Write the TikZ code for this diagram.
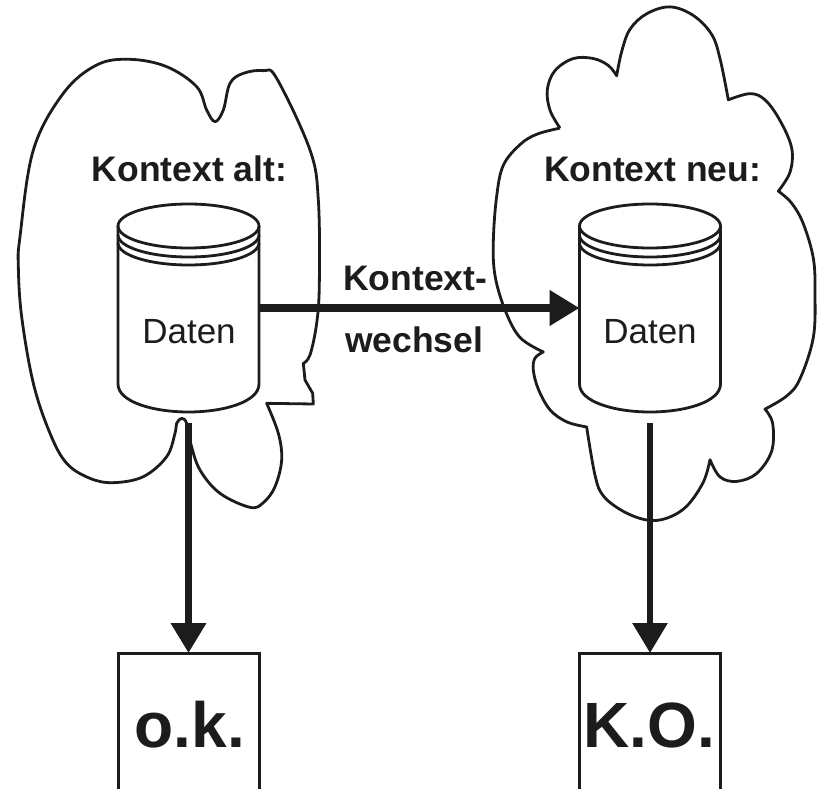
\documentclass[tikz,border=0pt]{standalone}
\usepackage{fontspec}
\setmainfont{Liberation Sans}
\usetikzlibrary{arrows.meta}
\definecolor{ink}{HTML}{1C1C1C}
\tikzset{
  cloudline/.style={draw=ink,line width=2.8pt,line join=round},
  drumline/.style={draw=ink,line width=2.8pt},
  drum/.style={minimum width=141pt,minimum height=208pt,inner sep=0pt,outer sep=0pt},
  resultbox/.style={draw=ink,line width=3pt,minimum width=141pt,minimum height=260pt,inner sep=0pt,outer sep=0pt},
  flow/.style={draw=ink,-{Triangle[length=30pt,width=34pt]}},
  heading/.style={font=\fontsize{35.5}{37}\selectfont\bfseries,text=ink,inner sep=0pt,anchor=base},
  switchlabel/.style={font=\fontsize{35.5}{37}\selectfont\bfseries,text=ink,inner sep=0pt,anchor=base west},
  datalabel/.style={font=\fontsize{35}{37}\selectfont,text=ink,inner sep=0pt,anchor=base},
  resultlabel/.style={font=\fontsize{64}{66}\selectfont\bfseries,text=ink,inner sep=0pt,anchor=base}
}
\newcommand{\drumbody}{%
  \draw[drumline] (-70.5,-82) arc[start angle=180,end angle=-180,x radius=70.5,y radius=22];
  \draw[drumline] (-70.5,-73) arc[start angle=180,end angle=0,x radius=70.5,y radius=22];
  \draw[drumline] (-70.5,-65) arc[start angle=180,end angle=0,x radius=70.5,y radius=22];
  \draw[drumline] (-70.5,-82) -- (-70.5,76) .. controls (-70.5,94) and (-35,104) .. (0,104)
     .. controls (35,104) and (70.5,94) .. (70.5,76) -- (70.5,-82);
}
\begin{document}
\begin{tikzpicture}[x=1pt,y=-1pt]
\path[use as bounding box,clip] (0,0) rectangle (817,789);

% left cloud
\begin{scope}[x=.33333pt,y=-.33333pt,yshift=-50pt]
\draw[cloudline] plot[smooth,tension=.6] coordinates {(800,1060)(835,1150)(845,1230)(825,1310)(790,1358)(750,1372)(660,1330)(600,1260)(572,1180)(560,1120)(545,1105)(530,1120)(525,1150)(500,1220)(430,1280)(340,1298)(270,1285)(200,1240)(150,1150)(100,1000)(65,800)(55,650)(60,560)(100,300)(190,130)(290,45)(390,28)(500,50)(590,110)(620,180)(645,215)(670,180)(690,100)(730,70)(790,62)(830,85)(930,300)(955,450)(958,700)(950,820)(930,915)(910,940)}
 -- (915,990) -- (938,1030) -- (940,1062) -- cycle;
\end{scope}

% right cloud
\begin{scope}[x=.33333pt,y=-.34435pt,xshift=470pt]
\draw[cloudline] plot[smooth,tension=.6] coordinates {(270,372)(240,320)(232,260)(255,205)(310,170)(370,170)(415,190)(440,220)}
 -- plot[smooth,tension=.6] coordinates {(440,220)(455,150)(480,85)(530,40)(600,20)(670,45)(725,100)(750,170)(775,290)}
 -- plot[smooth,tension=.6] coordinates {(775,290)(840,272)(885,290)(930,350)(965,430)(960,500)(925,555)}
 -- plot[smooth,tension=.6] coordinates {(925,555)(965,590)(1000,650)(1030,750)(1035,850)(1030,980)(990,1100)(950,1150)(885,1188)}
 -- plot[smooth,tension=.6] coordinates {(885,1188)(908,1230)(905,1310)(860,1375)(800,1398)(750,1385)(720,1335)}
 -- plot[smooth,tension=.6] coordinates {(720,1335)(700,1400)(650,1470)(590,1505)(530,1510)(460,1485)(400,1440)(375,1380)(350,1240)}
 -- plot[smooth,tension=.6] coordinates {(350,1240)(290,1225)(240,1190)(205,1130)(190,1075)(195,1040)(220,1022)}
 -- plot[smooth,tension=.6] coordinates {(220,1022)(150,980)(105,900)(75,800)(70,700)(80,570)(100,480)(150,420)(200,390)(270,372)};
\end{scope}

% cylinders
\node[drum] (oldstore) at (188.5,308) {};
\node[drum] (newstore) at (650,308) {};
\begin{scope}[shift={(oldstore.center)}]\drumbody\end{scope}
\begin{scope}[shift={(newstore.center)}]\drumbody\end{scope}

% result boxes
\node[resultbox] (okbox) at (188.5,783) {};
\node[resultbox] (kobox) at (650,783) {};

% texts
\node[heading] (oldtitle) at (189.5,182) {Kontext alt:};
\node[heading] (newtitle) at (652.5,182) {Kontext neu:};
\node[datalabel] (olddata) at (189,343) {Daten};
\node[datalabel] (newdata) at (650,343) {Daten};
\node[switchlabel] (switchone) at (343,290) {Kontext-};
\node[switchlabel] (switchtwo) at (345,352) {wechsel};
\node[resultlabel] (oktext) at (190,747) {o.k.};
\node[resultlabel] (kotext) at (649,747) {K.O.};

% connectors
\draw[flow,line width=8pt] (oldstore.east) -- (newstore.west);
\draw[flow,line width=7pt,shorten <=11pt] (oldstore.south) -- (okbox.north);
\draw[flow,line width=6pt,shorten <=11pt] (newstore.south) -- (kobox.north);
\end{tikzpicture}
\end{document}
